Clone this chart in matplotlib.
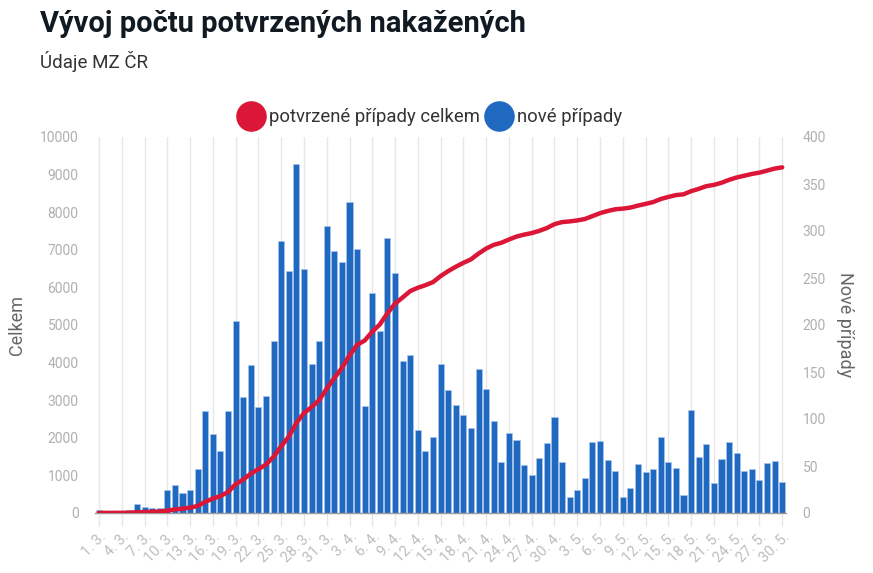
import matplotlib
matplotlib.use("Agg")
import matplotlib.pyplot as plt
from matplotlib.lines import Line2D
import numpy as np

plt.rcParams['font.family'] = ['Roboto', 'DejaVu Sans']

# ---- data ----
dates = (
    [f"{d}. 3." for d in range(1, 32)]
    + [f"{d}. 4." for d in range(1, 31)]
    + [f"{d}. 5." for d in range(1, 31)]
)

new_cases = [
    3, 0, 2, 0, 3, 10, 6, 5, 5, 25, 30, 21, 25, 47, 108, 84, 66, 109, 204, 123,
    157, 113, 125, 183, 289, 257, 371, 260, 159, 183, 305,
    279, 267, 331, 281, 114, 234, 194, 293, 255, 162, 168, 88, 66, 81, 158,
    131, 115, 104, 90, 153, 132, 98, 54, 85, 78, 51, 40, 58, 74, 102,
    54, 17, 25, 37, 76, 77, 56, 45, 17, 27, 52, 44, 47, 81, 54, 48, 19, 110,
    60, 73, 32, 57, 76, 64, 45, 47, 35, 53, 55, 33,
]

total_cases = [
    3, 3, 5, 5, 8, 19, 26, 32, 38, 63, 94, 116, 141, 189, 298, 383, 450, 560,
    765, 889, 1047, 1165, 1289, 1497, 1775, 2031, 2395, 2657, 2817, 3001, 3308,
    3589, 3858, 4190, 4472, 4587, 4822, 5017, 5312, 5569, 5732, 5902, 5991,
    6059, 6141, 6301, 6433, 6549, 6654, 6746, 6900, 7033, 7132, 7187, 7273,
    7352, 7404, 7445, 7504, 7579, 7682,
    7737, 7755, 7781, 7819, 7896, 7974, 8031, 8077, 8095, 8123, 8176, 8221,
    8269, 8351, 8406, 8455, 8475, 8560, 8620, 8693, 8726, 8783, 8860, 8924,
    8970, 9017, 9052, 9105, 9160, 9193,
]

left_ticks = list(range(0, 10001, 1000))
right_ticks = list(range(0, 401, 50))

title = "Vývoj počtu potvrzených nakažených"
subtitle = "Údaje MZ ČR"
series_total = "potvrzené případy celkem"
series_new = "nové případy"

RED = "#DC1637"
BLUE = "#1F69C1"
GRID = "#e6e6e6"
TICKC = "#b0b0b0"

W, H = 873, 573
fig = plt.figure(figsize=(W / 100, H / 100), dpi=100)
ax = fig.add_axes([95.2 / W, 1 - 513 / H, (786 - 95.2) / W, (513 - 137) / H])

x = np.arange(len(dates))
ax.bar(x, new_cases, width=0.8, color=BLUE, edgecolor="#a9c6ec", linewidth=0.5, zorder=2)
ax.set_xlim(-0.5, len(dates) - 0.5)
ax.set_ylim(0, 400)

ax.set_xticks(x[::3])
ax.set_xticklabels(dates[::3], rotation=45, ha="right", va="top", rotation_mode="anchor")
ax.tick_params(axis="x", length=9, width=1, color=GRID, pad=3, labelsize=10.5, labelcolor="#bdbdbd")
ax.grid(axis="x", color=GRID, linewidth=1, zorder=0)
ax.set_axisbelow(True)

for s in ["top", "left", "right"]:
    ax.spines[s].set_visible(False)
ax.spines["bottom"].set_color("#9a9a9a")
ax.spines["bottom"].set_linewidth(1)
ax.spines["bottom"].set_zorder(5)

ax2 = ax.twinx()
ax2.plot(x, total_cases, color=RED, linewidth=3.2, solid_capstyle="round", zorder=4)
ax2.set_ylim(0, 10000)
for s in ["top", "left", "right", "bottom"]:
    ax2.spines[s].set_visible(False)

# right axis: new cases (bars) -- set after twinx, which resets tick sides
ax.yaxis.tick_right()
ax.yaxis.set_label_position("right")
ax.set_yticks(right_ticks)
ax.set_yticklabels([str(t) for t in right_ticks])
ax.tick_params(axis="y", which="both", left=False, labelleft=False, right=True, labelright=True,
               length=0, pad=12, labelsize=10, labelcolor=TICKC)
ax.set_ylabel("Nové případy", rotation=270, labelpad=20, fontsize=13, color="#666666")

# left axis: totals (line)
ax2.yaxis.tick_left()
ax2.yaxis.set_label_position("left")
ax2.set_yticks(left_ticks)
ax2.set_yticklabels([str(t) for t in left_ticks])
ax2.tick_params(axis="y", which="both", right=False, labelright=False, left=True, labelleft=True,
                length=0, pad=12, labelsize=10, labelcolor=TICKC)
ax2.set_ylabel("Celkem", fontsize=13, color="#666666", labelpad=10)

fig.text(40 / W, 1 - 24 / H, title, fontsize=21, fontweight="bold", color="#111a22",
         ha="left", va="center")
fig.text(40 / W, 1 - 61 / H, subtitle, fontsize=13.5, color="#333333", ha="left", va="center")

handles = [
    Line2D([], [], linestyle="none", marker="o", markersize=21, color=RED),
    Line2D([], [], linestyle="none", marker="o", markersize=21, color=BLUE),
]
fig.legend(handles, [series_total, series_new], loc="center", ncol=2,
           bbox_to_anchor=(431 / W, 1 - 117 / H), frameon=False, fontsize=13.3,
           labelcolor="#333333", handletextpad=0.4, columnspacing=0.4, handlelength=1.2)

fig.savefig("out.png", dpi=100)
